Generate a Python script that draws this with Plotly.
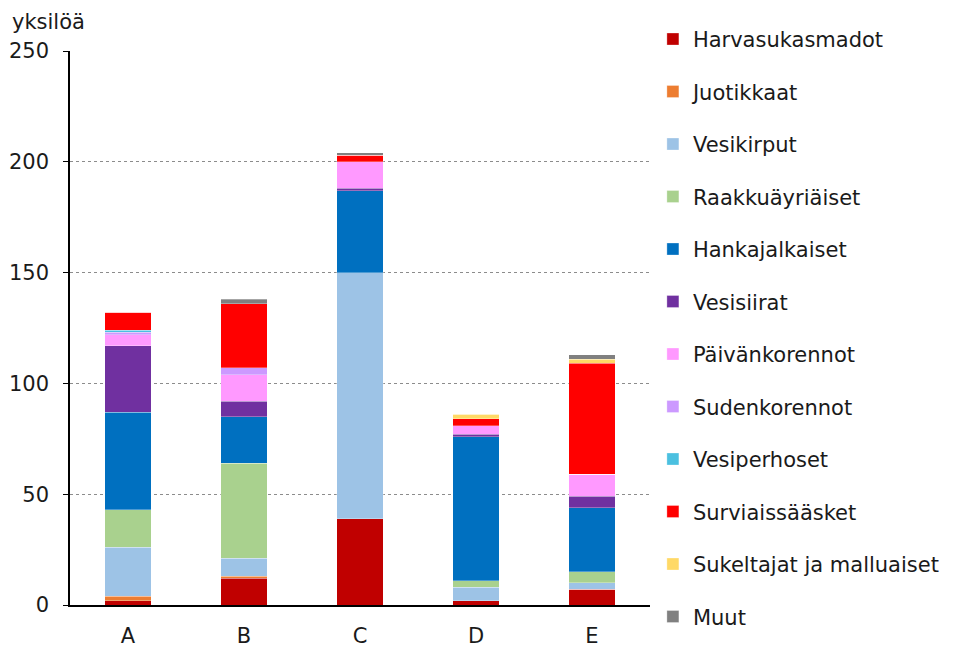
import plotly.graph_objects as go

categories = ["A", "B", "C", "D", "E"]

series_names = [
    "Harvasukasmadot", "Juotikkaat", "Vesikirput", "Raakkuäyriäiset",
    "Hankajalkaiset", "Vesisiirat", "Päivänkorennot", "Sudenkorennot",
    "Vesiperhoset", "Surviaissääsket", "Sukeltajat ja malluaiset", "Muut",
]

harvasukasmadot = [2, 12, 39, 2, 7]
juotikkaat = [2, 1, 0, 0, 0]
vesikirput = [22, 8, 111, 6, 3]
raakkuayriaiset = [17, 43, 0, 3, 5]
hankajalkaiset = [44, 21, 37, 65, 29]
vesisiirat = [30, 7, 1, 1, 5]
paivankorennot = [5, 12, 12, 4, 10]
sudenkorennot = [1, 3, 0, 0, 0]
vesiperhoset = [1, 0, 0, 0, 0]
surviaissaasket = [8, 29, 3, 3, 50]
sukeltajat = [0, 0, 0, 2, 2]
muut = [0, 2, 1, 0, 2]

series_values = [
    harvasukasmadot, juotikkaat, vesikirput, raakkuayriaiset, hankajalkaiset,
    vesisiirat, paivankorennot, sudenkorennot, vesiperhoset, surviaissaasket,
    sukeltajat, muut,
]

colors = [
    "#C00000", "#ED7D31", "#9DC3E6", "#A9D18E", "#0070C0", "#7030A0",
    "#FF99FF", "#CC99FF", "#4BC0E0", "#FF0000", "#FFD966", "#808080",
]

FONT = "'DejaVu Sans', sans-serif"

fig = go.Figure()
for name, vals, col in zip(series_names, series_values, colors):
    fig.add_trace(go.Bar(
        x=categories, y=vals, name=name, legendgroup=name,
        marker=dict(color=col, line=dict(color="rgba(255,255,255,0.6)", width=0.5)),
    ))

fig.update_layout(
    barmode="stack",
    bargap=0.6,
    width=953, height=644,
    margin=dict(l=62, r=311, t=43, b=47, autoexpand=False),
    plot_bgcolor="white", paper_bgcolor="white",
    font=dict(family=FONT, size=20, color="#1a1a1a"),
    showlegend=True,
    legend=dict(
        x=1.005, xanchor="left", xref="paper",
        y=1.058, yanchor="top",
        traceorder="grouped",
        tracegroupgap=22.2,
        font=dict(size=21, family=FONT),
        itemwidth=30,
        bgcolor="rgba(0,0,0,0)",
        maxheight=640,
    ),
    xaxis=dict(
        showline=True, linecolor="black", linewidth=2,
        ticks="", showgrid=False,
        tickfont=dict(size=21),
        ticklabelstandoff=11,
    ),
    yaxis=dict(
        range=[0, 250], dtick=50,
        showline=True, linecolor="black", linewidth=1.5,
        ticks="outside", ticklen=5, tickcolor="black",
        showgrid=True, gridcolor="#8c8c8c", griddash="dot", gridwidth=1,
        zeroline=False,
        tickfont=dict(size=21),
        ticklabelstandoff=10,
    ),
    annotations=[dict(
        text="yksilöä", xref="paper", yref="paper", x=-0.102, y=1.0523,
        xanchor="left", yanchor="middle", showarrow=False,
        font=dict(size=21, family=FONT), borderpad=0,
    )],
)

fig.write_html("out.html")
